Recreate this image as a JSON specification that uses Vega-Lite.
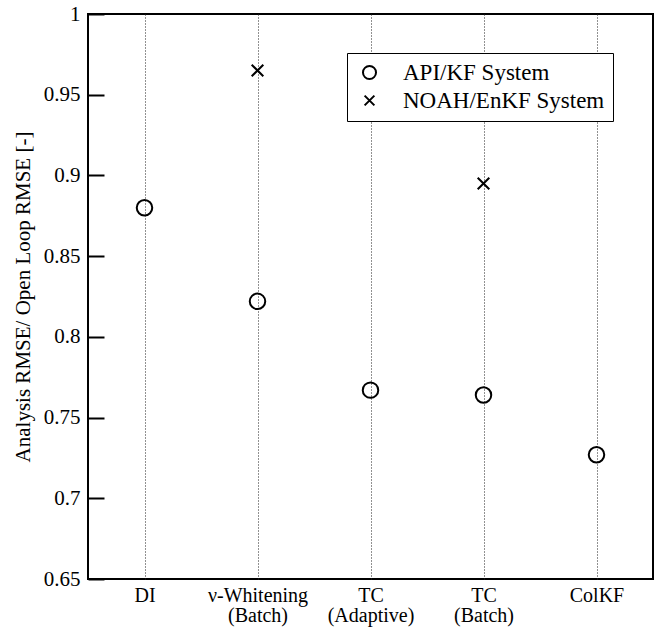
{
  "$schema": "https://vega.github.io/schema/vega-lite/v6.json",
  "width": 565,
  "height": 565,
  "autosize": "none",
  "padding": {"left": 88, "top": 14, "right": 8, "bottom": 49},
  "data": {
    "values": [
      {"method": "DI", "system": "API/KF System", "ratio": 0.880},
      {"method": "ν-Whitening (Batch)", "system": "API/KF System", "ratio": 0.822},
      {"method": "ν-Whitening (Batch)", "system": "NOAH/EnKF System", "ratio": 0.965},
      {"method": "TC (Adaptive)", "system": "API/KF System", "ratio": 0.767},
      {"method": "TC (Batch)", "system": "API/KF System", "ratio": 0.764},
      {"method": "TC (Batch)", "system": "NOAH/EnKF System", "ratio": 0.895},
      {"method": "ColKF", "system": "API/KF System", "ratio": 0.727}
    ]
  },
  "mark": {"type": "point", "filled": false, "color": "black", "strokeWidth": 2, "size": 240, "opacity": 1},
  "encoding": {
    "x": {
      "field": "method",
      "type": "ordinal",
      "sort": ["DI", "ν-Whitening (Batch)", "TC (Adaptive)", "TC (Batch)", "ColKF"],
      "scale": {"type": "point", "padding": 0.5},
      "axis": {
        "title": null,
        "labelAngle": 0,
        "labelExpr": "split(datum.value, ' ')",
        "labelFont": "Liberation Serif",
        "labelFontSize": 20,
        "labelLineHeight": 20,
        "labelColor": "black",
        "labelPadding": 6,
        "ticks": false,
        "domain": false,
        "grid": true,
        "gridColor": "#222222",
        "gridDash": [1, 2],
        "gridWidth": 1
      }
    },
    "y": {
      "field": "ratio",
      "type": "quantitative",
      "scale": {"domain": [0.65, 1], "nice": false, "zero": false},
      "axis": {
        "offset": -16,
        "title": "Analysis RMSE/ Open Loop RMSE [-]",
        "titleFont": "Liberation Serif",
        "titleFontSize": 21,
        "titleFontWeight": "normal",
        "titleColor": "black",
        "titlePadding": 10,
        "values": [0.65, 0.7, 0.75, 0.8, 0.85, 0.9, 0.95, 1],
        "labelExpr": "format(datum.value, '~g')",
        "labelFont": "Liberation Serif",
        "labelFontSize": 21,
        "labelColor": "black",
        "labelPadding": 8,
        "tickSize": 16,
        "tickColor": "black",
        "tickWidth": 2,
        "domain": false,
        "grid": false
      }
    },
    "shape": {
      "field": "system",
      "type": "nominal",
      "scale": {
        "domain": ["API/KF System", "NOAH/EnKF System"],
        "range": ["circle", "M-0.75,-0.75L0.75,0.75M-0.75,0.75L0.75,-0.75"]
      },
      "legend": {
        "title": null,
        "orient": "none",
        "legendX": 259,
        "legendY": 39,
        "strokeColor": "black",
        "fillColor": "white",
        "padding": 8,
        "symbolOffset": 3,
        "symbolSize": 170,
        "symbolStrokeWidth": 2,
        "symbolStrokeColor": "black",
        "rowPadding": 4,
        "labelOffset": 22,
        "labelLimit": 400,
        "labelFont": "Liberation Serif",
        "labelFontSize": 23,
        "labelColor": "black"
      }
    }
  },
  "config": {
    "view": {"stroke": "black", "strokeWidth": 2}
  }
}
